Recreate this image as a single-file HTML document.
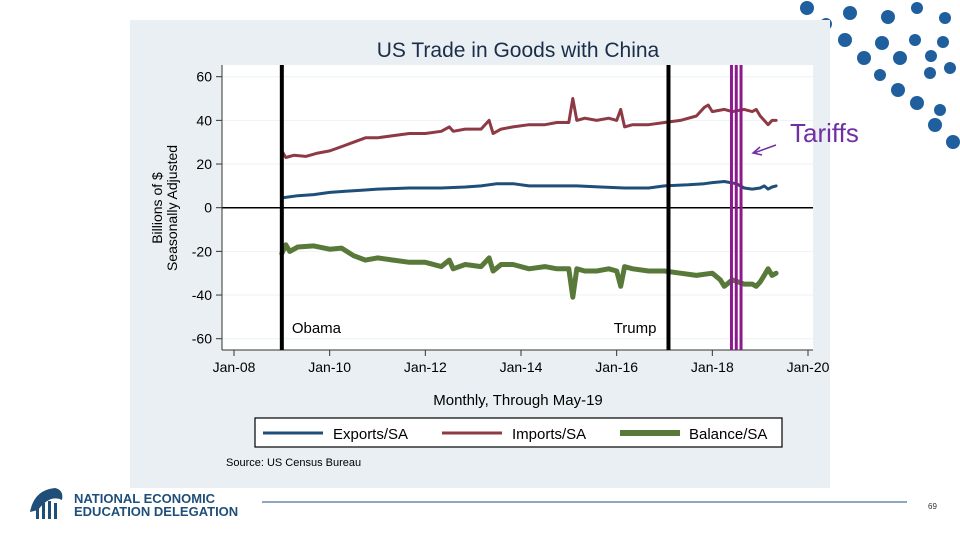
<!DOCTYPE html>
<html><head><meta charset="utf-8"><style>
body{margin:0;width:960px;height:540px;background:#fff;overflow:hidden;font-family:"Liberation Sans",sans-serif}
svg{display:block}
</style></head><body>
<svg width="960" height="540" viewBox="0 0 960 540">
<g id="dots"></g>
<rect x="130" y="20" width="700" height="468" fill="#e9eff2"/>
<rect x="222" y="65" width="591" height="285" fill="#fff"/>
<text x="518" y="57" text-anchor="middle" font-size="21" fill="#1a2e4a">US Trade in Goods with China</text>
<g id="grid"></g>
<g id="yaxis"></g>
<g id="xaxis"></g>
<g id="series"></g>
<g id="vlines"></g>
<text transform="translate(162,208) rotate(-90)" text-anchor="middle" font-size="14" fill="#000"><tspan x="0" dy="0">Billions of $</tspan><tspan x="0" dy="15">Seasonally Adjusted</tspan></text>
<text x="518" y="405" text-anchor="middle" font-size="15" fill="#000">Monthly, Through May-19</text>
<g>
<rect x="255" y="418" width="527" height="29" fill="#fff" stroke="#000" stroke-width="1.2"/>
<line x1="263" y1="433" x2="323" y2="433" stroke="#1f4e79" stroke-width="3"/>
<text x="333" y="439" font-size="15">Exports/SA</text>
<line x1="442" y1="433" x2="502" y2="433" stroke="#8e3a45" stroke-width="3"/>
<text x="512" y="439" font-size="15">Imports/SA</text>
<line x1="620" y1="433" x2="680" y2="433" stroke="#58793a" stroke-width="6"/>
<text x="689" y="439" font-size="15">Balance/SA</text>
</g>
<text x="226" y="466" font-size="11">Source: US Census Bureau</text>
<text x="790" y="142" font-size="26" fill="#7030a0">Tariffs</text>
<g stroke="#7030a0" stroke-width="1.5" fill="none">
<line x1="776" y1="145" x2="754" y2="153"/><path d="M760,147 L753,153 L762,155"/></g>
<g>
<path d="M30,512 Q34,490 55,488 Q64,490 62,500 Q50,494 38,510 Z" fill="#1f4e79"/>
<rect x="36" y="505" width="3" height="14" fill="#1f4e79"/><rect x="42" y="503" width="3" height="16" fill="#1f4e79"/><rect x="48" y="501" width="3" height="18" fill="#1f4e79"/><rect x="54" y="503" width="3" height="16" fill="#1f4e79"/>
<text x="74" y="503" font-size="13" font-weight="bold" fill="#1f4e79">NATIONAL ECONOMIC</text>
<text x="74" y="516" font-size="13" font-weight="bold" fill="#1f4e79">EDUCATION DELEGATION</text>
</g>
<line x1="262" y1="502" x2="907" y2="502" stroke="#1f4e79" stroke-width="1"/>
<text x="928" y="509" font-size="8" fill="#333">69</text>
</svg>
<script>
const yTicks=[60,40,20,0,-20,-40,-60];
const xTickLabels=["Jan-08","Jan-10","Jan-12","Jan-14","Jan-16","Jan-18","Jan-20"];
const xTickMonths=[0,24,48,72,96,120,144];
const importMonths=[12,13,15,18,21,24,27,30,33,36,40,44,48,52,54,55,58,62,64,65,67,70,74,78,81,84,85,86,88,91,94,96,97,98,100,104,108,112,116,118,119,120,123,125,128,130,131,132,133,134,135,136];
const importVals=[26,23,24,23.5,25,26,28,30,32,32,33,34,34,35,37,35,36,36,40,34,36,37,38,38,39,39,50,40,41,40,41,40,45,37,38,38,39,40,42,46,47,44,45,44,45,44,45,42,40,38,40,40];
const exportMonths=[12,16,20,24,28,32,36,44,52,58,62,66,70,74,80,86,92,98,104,108,114,118,120,123,126,128,130,132,133,134,135,136];
const exportVals=[4.5,5.5,6,7,7.5,8,8.5,9,9,9.5,10,11,11,10,10,10,9.5,9,9,10,10.5,11,11.5,12,11,9,8.5,9,10,8.5,9.5,10];
const balanceMonths=[12,13,14,16,20,24,27,30,33,36,40,44,48,52,54,55,58,62,64,65,67,70,74,78,81,84,85,86,88,91,94,96,97,98,100,104,108,112,116,120,122,123,125,128,130,131,132,133,134,135,136];
const balanceVals=[-21,-17,-20,-18,-17.5,-19,-18.5,-22,-24,-23,-24,-25,-25,-27,-24,-28,-26,-27,-23,-29,-26,-26,-28,-27,-28,-28,-41,-28,-29,-29,-28,-29,-36,-27,-28,-29,-29,-30,-31,-30,-33,-36,-33,-35,-35,-36,-34,-31,-28,-31,-30];
const eventMonths=[12,109];
const eventLabels=["Obama","Trump"];
const tariffMonths=[124.8,126,127.2];

const NS="http://www.w3.org/2000/svg";
const X=m=>234+m*574/144;
const Y=v=>207.7-v*131/60;
function mk(tag,attrs,parent){const e=document.createElementNS(NS,tag);for(const k in attrs)e.setAttribute(k,attrs[k]);parent.appendChild(e);return e;}
const grid=document.getElementById('grid'),ya=document.getElementById('yaxis'),xa=document.getElementById('xaxis'),ser=document.getElementById('series'),vl=document.getElementById('vlines');
yTicks.forEach(t=>{
  const g=mk('line',{x1:222,x2:813,y1:Y(t),y2:Y(t),stroke:t===0?'#000':'#eef2f4','stroke-width':t===0?1.5:1},grid);
  
  
  const tk=mk('line',{x1:216,x2:222,y1:Y(t),y2:Y(t),stroke:'#333'},ya);
  
  
  const tx=mk('text',{x:212,y:Y(t)+5,'text-anchor':'end','font-size':14},ya);
  tx.textContent=t;
  
  
});
mk('line',{x1:222,x2:222,y1:65,y2:350,stroke:'#333'},ya);
mk('line',{x1:222,x2:813,y1:350,y2:350,stroke:'#333'},xa);
xTickMonths.forEach((m,i)=>{
  const tk=mk('line',{x1:X(m),x2:X(m),y1:350,y2:356,stroke:'#333'},xa);
  
  
  const tx=mk('text',{x:X(m),y:372,'text-anchor':'middle','font-size':14},xa);
  tx.textContent=xTickLabels[i];
  
  
});
function line(ms,vs,color,w,name){
  const d=ms.map((m,i)=>(i?'L':'M')+X(m).toFixed(1)+','+Y(vs[i]).toFixed(1)).join(' ');
  const p=mk('path',{d:d,fill:'none',stroke:color,'stroke-width':w,'stroke-linejoin':'round','stroke-linecap':'round'},ser);
  
  
}
line(exportMonths,exportVals,'#1f4e79',3,'exports-line');
line(importMonths,importVals,'#8e3a45',3,'imports-line');
line(balanceMonths,balanceVals,'#58793a',5,'balance-line');
eventMonths.forEach((m,i)=>{
  const l=mk('line',{x1:X(m),x2:X(m),y1:65,y2:350,stroke:'#000','stroke-width':4},vl);
  
  
  const t=mk('text',{x:i===0?X(m)+10:X(m)-12,y:333,'text-anchor':i===0?'start':'end','font-size':15},vl);
  t.textContent=eventLabels[i];
  
  
});
tariffMonths.forEach(m=>{
  const l=mk('line',{x1:X(m),x2:X(m),y1:65,y2:350,stroke:'#8b1a8b','stroke-width':3},vl);
  
  
});
const dots=document.getElementById('dots');
[[807,8,7],[826,24,6],[850,13,7],[888,17,7],[917,8,6],[945,18,6],[845,40,7],[882,43,7],[915,40,6],[943,42,6],[864,58,7],[900,58,7],[931,56,6],[898,90,7],[930,73,6],[950,68,6],[917,103,7],[940,110,6],[935,125,7],[953,142,7],[880,75,6]].forEach(c=>{
  const e=mk('circle',{cx:c[0],cy:c[1],r:c[2],fill:'#1f5f9e'},dots);
  
  
});
</script>
</body></html>
